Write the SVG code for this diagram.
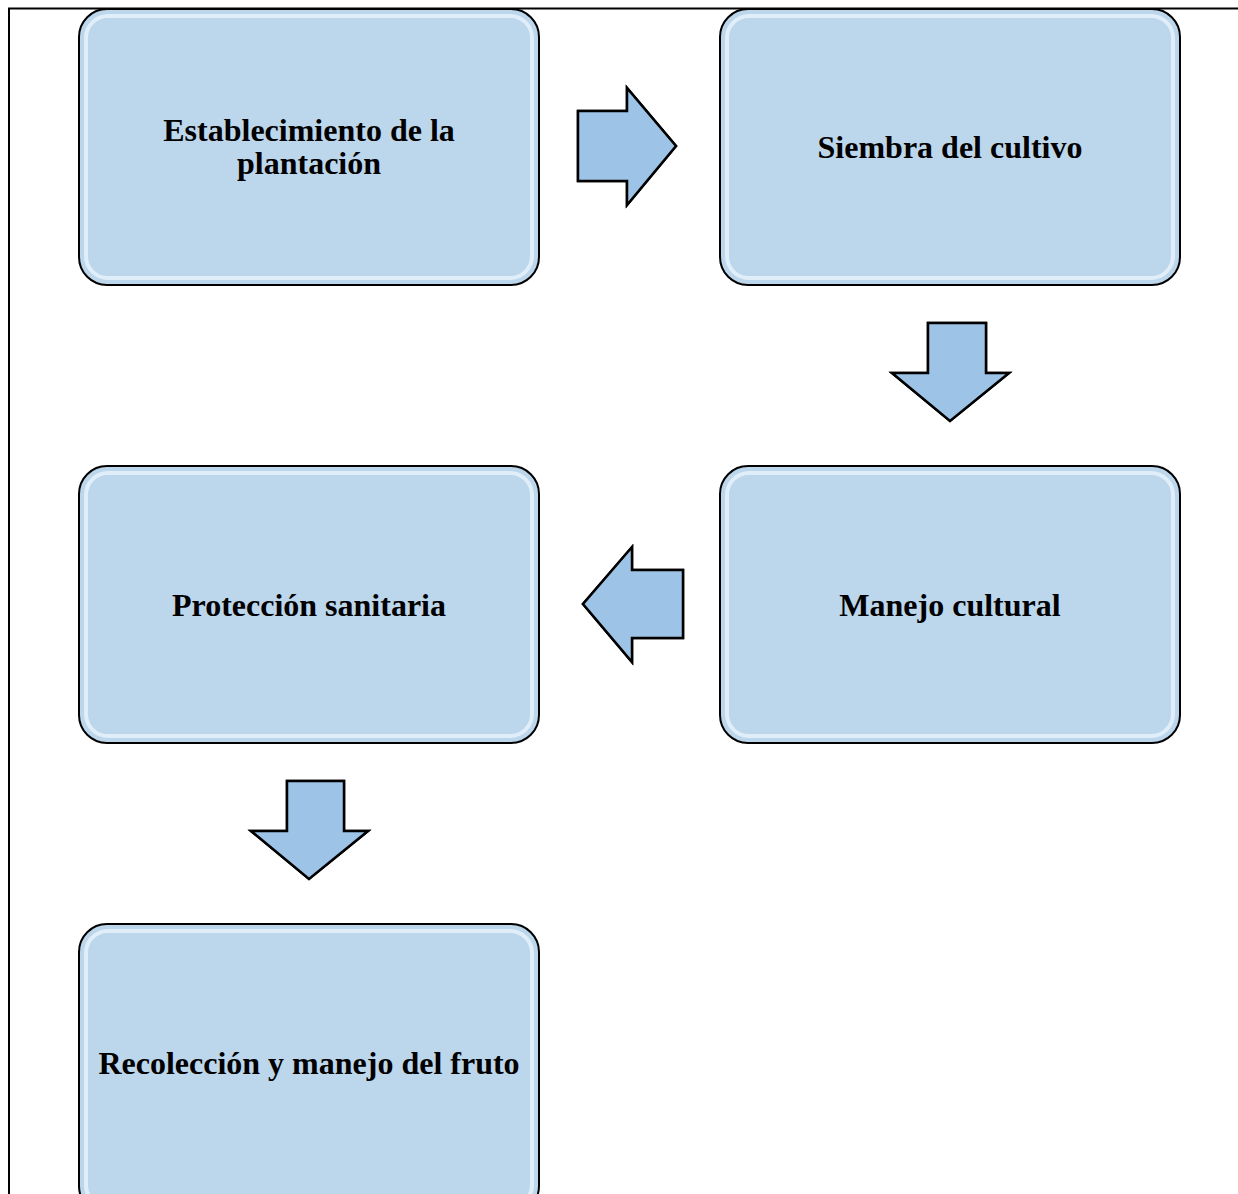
<svg xmlns="http://www.w3.org/2000/svg" width="1238" height="1194" viewBox="0 0 1238 1194">
<defs>
<style>
.box{fill:#BCD6EC;stroke:#000;stroke-width:2}
.hl{fill:none;stroke:#E6F2FB;stroke-width:4;opacity:0.85}
.arr{fill:#9DC3E6;stroke:#000;stroke-width:2.5;stroke-linejoin:miter}
.bev{fill:#C4E1F8;stroke:none}
.t{font-family:"Liberation Serif","Times New Roman",serif;font-weight:bold;font-size:32px;fill:#000;text-anchor:middle}
</style>
</defs>
<rect width="1238" height="1194" fill="#fff"/>
<path d="M9 1194 V8.5 H1238" fill="none" stroke="#000" stroke-width="2"/>
<g id="n1">
<rect class="box" x="79" y="9" width="460" height="276" rx="28"/>
<rect class="hl" x="86" y="16" width="446" height="262" rx="22"/>
<text class="t" x="309" y="141">Establecimiento de la</text>
<text class="t" x="309" y="174">plantación</text>
</g>
<g id="n2">
<rect class="box" x="720" y="9" width="460" height="276" rx="28"/>
<rect class="hl" x="727" y="16" width="446" height="262" rx="22"/>
<text class="t" x="950" y="158">Siembra del cultivo</text>
</g>
<g id="n3">
<rect class="box" x="720" y="466" width="460" height="277" rx="28"/>
<rect class="hl" x="727" y="473" width="446" height="263" rx="22"/>
<text class="t" x="950" y="616">Manejo cultural</text>
</g>
<g id="n4">
<rect class="box" x="79" y="466" width="460" height="277" rx="28"/>
<rect class="hl" x="86" y="473" width="446" height="263" rx="22"/>
<text class="t" x="309" y="616">Protección sanitaria</text>
</g>
<g id="n5">
<rect class="box" x="79" y="924" width="460" height="290" rx="28"/>
<rect class="hl" x="86" y="931" width="446" height="276" rx="22"/>
<text class="t" x="309" y="1074">Recolección y manejo del fruto</text>
</g>
<g id="connectors">
<path class="arr" d="M578 111 H627 V88 L676 146 L627 205 V181 H578 Z"/>
<path class="bev" d="M580 113 H586 V179 H580 Z M629 93 L674 146 L667 146 L633 106 Z M629 199 L674 146 L667 146 L633 186 Z"/>
<path class="arr" d="M928 323 H986 V373 H1009 L950 421 L892 373 H928 Z"/>
<path class="bev" d="M930 325 H984 V331 H930 Z M897 375 L950 419 L950 412 L910 379 Z M1004 375 L950 419 L950 412 L990 379 Z"/>
<path class="arr" d="M683 570 V638 H632 V662 L583 604 L632 547 V570 Z"/>
<path class="bev" d="M681 572 V636 H675 V572 Z M630 552 L585 604 L592 604 L626 565 Z M630 657 L585 604 L592 604 L626 644 Z"/>
<path class="arr" d="M287 781 H344 V831 H368 L309 879 L251 831 H287 Z"/>
<path class="bev" d="M289 783 H342 V789 H289 Z M256 833 L309 877 L309 870 L269 837 Z M363 833 L309 877 L309 870 L349 837 Z"/>
<path class="arr" d="M578 111 H627 V88 L676 146 L627 205 V181 H578 Z" fill="none"/>
<path class="arr" d="M928 323 H986 V373 H1009 L950 421 L892 373 H928 Z" fill="none"/>
<path class="arr" d="M683 570 V638 H632 V662 L583 604 L632 547 V570 Z" fill="none"/>
<path class="arr" d="M287 781 H344 V831 H368 L309 879 L251 831 H287 Z" fill="none"/>
</g>
</svg>
